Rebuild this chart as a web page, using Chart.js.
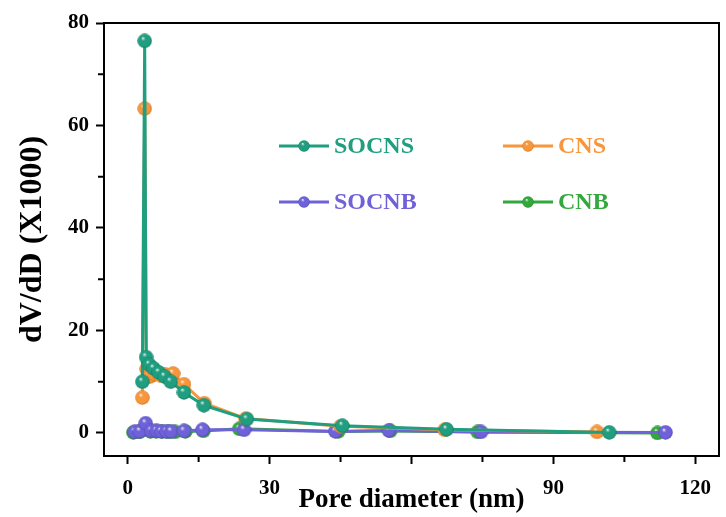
<!DOCTYPE html>
<html>
<head>
<meta charset="utf-8">
<script src="https://cdn.jsdelivr.net/npm/chart.js@4/dist/chart.umd.min.js"></script>
<style>
  html, body { margin: 0; padding: 0; background: #fff; }
</style>
</head>
<body>
<canvas id="poreChart" width="726" height="517"></canvas>
<script>
// pore size distribution, dV/dD (x1000) vs pore diameter (nm)
const socnsX = [3.1, 3.6, 3.9, 4.6, 5.5, 6.6, 7.8, 9.1, 11.9, 16.1, 25.2, 45.4, 67.4, 101.8];
const socnsY = [10.0, 76.5, 14.8, 13.3, 12.6, 11.8, 11.0, 10.0, 7.9, 5.4, 2.7, 1.4, 0.7, 0.1];

const cnsX = [3.1, 3.6, 4.0, 4.7, 5.6, 6.8, 8.0, 9.6, 11.9, 16.2, 25.0, 45.0, 67.0, 99.2];
const cnsY = [6.9, 63.3, 12.5, 11.0, 11.5, 11.3, 11.4, 11.6, 9.5, 5.8, 2.8, 1.3, 0.6, 0.2];

const socnbX = [1.5, 2.6, 3.8, 5.0, 6.1, 7.1, 8.2, 9.2, 11.9, 15.8, 24.6, 43.9, 55.2, 74.7, 113.7];
const socnbY = [0.2, 0.3, 1.9, 0.4, 0.4, 0.3, 0.3, 0.3, 0.4, 0.6, 0.6, 0.3, 0.5, 0.2, 0.1];

const cnbX = [1.2, 2.4, 3.5, 4.8, 6.0, 7.3, 8.6, 10.0, 12.2, 16.0, 23.6, 44.5, 55.5, 74.0, 112.0];
const cnbY = [0.1, 0.2, 0.8, 0.3, 0.3, 0.3, 0.2, 0.2, 0.3, 0.4, 0.8, 0.3, 0.4, 0.2, 0.0];

const xTicks = [0, 30, 60, 90, 120];
const xMinor = [15, 45, 75, 105];
const yTicks = [0, 20, 40, 60, 80];
const yMinor = [10, 30, 50, 70];
const xHiddenLabel = 60; // covered by the axis title in the original

const serif = "'Liberation Serif', 'Times New Roman', serif";

function sphere(color, dark, size) {
  const c = document.createElement('canvas');
  c.width = c.height = size;
  const g = c.getContext('2d');
  const r = size / 2;
  const grad = g.createRadialGradient(r * 0.75, r * 0.6, 0, r, r, r);
  grad.addColorStop(0, '#f6f6f6');
  grad.addColorStop(0.3, color);
  grad.addColorStop(0.8, color);
  grad.addColorStop(1, dark);
  g.fillStyle = grad;
  g.beginPath();
  g.arc(r, r, r - 0.3, 0, Math.PI * 2);
  g.fill();
  return c;
}

const series = [
  { label: 'SOCNS', xs: socnsX, ys: socnsY, color: '#1f9e80', dark: '#127058', order: 0 },
  { label: 'CNS', xs: cnsX, ys: cnsY, color: '#f7963a', dark: '#c86d1c', order: 1 },
  { label: 'SOCNB', xs: socnbX, ys: socnbY, color: '#6f62d9', dark: '#4a3fae', order: 2 },
  { label: 'CNB', xs: cnbX, ys: cnbY, color: '#33a83c', dark: '#1f7a26', order: 3 }
];

const datasets = series.map(s => ({
  label: s.label,
  data: s.xs.map((x, i) => ({ x: x, y: s.ys[i] })),
  borderColor: s.color,
  borderWidth: 3,
  pointStyle: sphere(s.color, s.dark, 15),
  order: s.order,
  tension: 0,
  fill: false
}));

// 2x2 legend inside the plot, drawn like the original
const legendSpots = [
  { x: 279, y: 146 },
  { x: 503, y: 146 },
  { x: 279, y: 202 },
  { x: 503, y: 202 }
];

const framePlugin = {
  id: 'frame',
  afterDraw(chart) {
    const ctx = chart.ctx;
    const a = chart.chartArea;
    ctx.save();
    ctx.strokeStyle = '#000';
    ctx.lineWidth = 2;
    ctx.strokeRect(a.left, a.top, a.right - a.left, a.bottom - a.top);

    // minor ticks
    ctx.beginPath();
    xMinor.forEach(v => {
      const px = chart.scales.x.getPixelForValue(v);
      ctx.moveTo(px, a.bottom);
      ctx.lineTo(px, a.bottom + 6);
    });
    yMinor.forEach(v => {
      const py = chart.scales.y.getPixelForValue(v);
      ctx.moveTo(a.left, py);
      ctx.lineTo(a.left - 6, py);
    });
    ctx.stroke();

    // legend
    ctx.font = 'bold 24px ' + serif;
    ctx.textBaseline = 'middle';
    series.forEach((s, i) => {
      const p = legendSpots[i];
      ctx.strokeStyle = s.color;
      ctx.lineWidth = 3;
      ctx.beginPath();
      ctx.moveTo(p.x, p.y);
      ctx.lineTo(p.x + 50, p.y);
      ctx.stroke();
      ctx.drawImage(sphere(s.color, s.dark, 12), p.x + 19, p.y - 6);
      ctx.fillStyle = s.color;
      ctx.fillText(s.label, p.x + 55, p.y + 1);
    });
    ctx.restore();
  }
};

new Chart(document.getElementById('poreChart'), {
  type: 'line',
  data: { datasets: datasets },
  options: {
    responsive: false,
    animation: false,
    layout: { padding: { top: 23, right: 2, left: 0, bottom: 0 } },
    plugins: {
      legend: { display: false },
      tooltip: { enabled: false }
    },
    scales: {
      x: {
        type: 'linear',
        min: -5,
        max: 125,
        afterBuildTicks: scale => { scale.ticks = xTicks.map(v => ({ value: v })); },
        afterFit: scale => { scale.height = 61; },
        border: { display: false },
        grid: { drawOnChartArea: false, drawTicks: true, tickLength: 8, tickWidth: 2, tickColor: '#000' },
        ticks: {
          color: c => (c.tick && c.tick.value === xHiddenLabel) ? 'rgba(0,0,0,0)' : '#000',
          padding: 12,
          font: { family: serif, size: 21, weight: 'bold' }
        },
        title: {
          display: true,
          text: 'Pore diameter (nm)',
          color: '#000',
          padding: { top: 0, bottom: 1 },
          font: { family: serif, size: 27, weight: 'bold' }
        }
      },
      y: {
        type: 'linear',
        min: -4.5,
        max: 80,
        afterBuildTicks: scale => { scale.ticks = yTicks.map(v => ({ value: v })); },
        afterFit: scale => { scale.width = 104; },
        border: { display: false },
        grid: { drawOnChartArea: false, drawTicks: true, tickLength: 8, tickWidth: 2, tickColor: '#000' },
        ticks: { color: '#000', padding: 7, font: { family: serif, size: 21, weight: 'bold' } },
        title: {
          display: true,
          text: 'dV/dD (X1000)',
          color: '#000',
          padding: { top: 14, bottom: 0 },
          font: { family: serif, size: 32, weight: 'bold' }
        }
      }
    }
  },
  plugins: [framePlugin]
});
</script>
</body>
</html>
